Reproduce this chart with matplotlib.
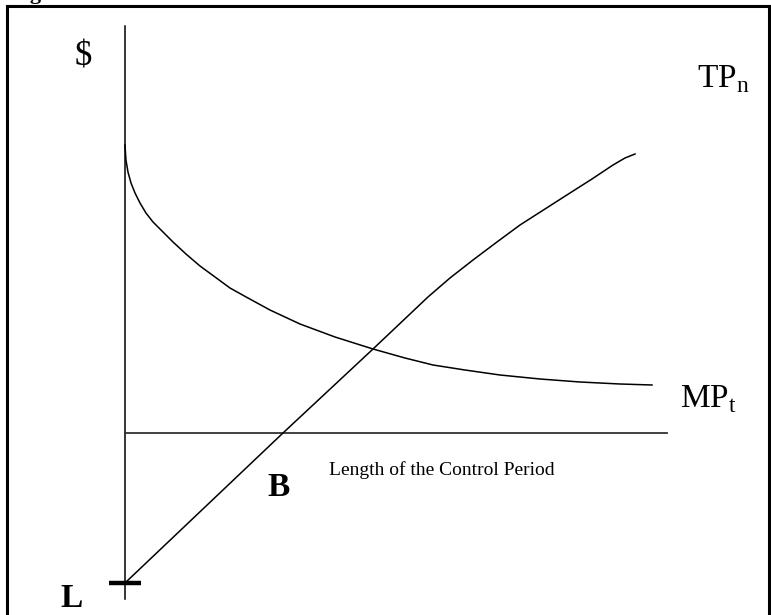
import matplotlib.pyplot as plt
from matplotlib.lines import Line2D

plt.rcParams['font.family'] = ['Liberation Serif', 'DejaVu Serif']
plt.rcParams['mathtext.fontset'] = 'custom'
plt.rcParams['mathtext.rm'] = 'Liberation Serif'

# TP_n curve (net total product)
tp_x = [0.0, 2.915, 4.576, 5.59, 5.996, 6.421, 6.863, 7.288, 7.749, 8.21, 8.616, 9.004, 9.225, 9.41]
tp_y = [-3.0, 0.0, 1.68, 2.72, 3.1, 3.46, 3.82, 4.16, 4.48, 4.8, 5.08, 5.36, 5.5, 5.58]

# MP_t curve (marginal product)
mp_x = [0.0, 0.018, 0.055, 0.111, 0.185, 0.277, 0.387, 0.517, 0.683, 0.886, 1.125,
        1.384, 1.661, 1.937, 2.269, 2.675, 3.229, 3.875, 4.576, 5.166, 5.683, 6.273,
        6.919, 7.657, 8.395, 9.133, 9.723]
mp_y = [5.76, 5.46, 5.22, 5.0, 4.8, 4.6, 4.4, 4.22, 4.04, 3.82, 3.58,
        3.34, 3.12, 2.9, 2.7, 2.46, 2.18, 1.92, 1.68, 1.5, 1.36, 1.26,
        1.16, 1.08, 1.02, 0.98, 0.96]

x_axis_end = 10.0
y_axis_top = 8.14
y_axis_bottom = -3.32
L_value = -3.0

fig = plt.figure(figsize=(7.71, 6.15), dpi=100)
ax = fig.add_axes([0, 0, 1, 1])
ax.set_xlim(-2.306, 11.919)
ax.set_ylim(-3.64, 8.66)
ax.axis('off')

# axes of the diagram
ax.plot([0, 0], [y_axis_bottom, y_axis_top], color='black', lw=1.1)
ax.plot([0, x_axis_end], [0, 0], color='#333333', lw=1.3)
ax.plot([-0.295, 0.295], [L_value, L_value], color='black', lw=3.2, solid_capstyle='butt')

# curves
ax.plot(tp_x, tp_y, color='black', lw=1.1, solid_joinstyle='round')
ax.plot(mp_x, mp_y, color='black', lw=1.1, solid_joinstyle='round')

# labels
ax.text(-0.775, 7.52, '$', fontsize=25, ha='center', va='center')
ax.text(10.55, 6.92, r'TP$_\mathregular{n}$', fontsize=24, ha='left', va='baseline')
ax.text(10.24, 0.52, r'MP$_\mathregular{t}$', fontsize=24, ha='left', va='baseline')
ax.text(3.76, -0.84, 'Length of the Control Period', fontsize=14, ha='left', va='baseline')
ax.text(2.62, -1.26, 'B', fontsize=24, fontweight='bold', ha='left', va='baseline')
ax.text(-1.2, -3.48, 'L', fontsize=24, fontweight='bold', ha='left', va='baseline')

# caption cut off at the top edge
fig.text(11 / 771, 1 + 1 / 615, 'Figure', fontsize=16, fontweight='bold', ha='left', va='baseline')

# frame
W, H = 771, 615
frame_top = 1 - 6 / H
fig.add_artist(Line2D([7 / W, 769 / W], [frame_top, frame_top], color='black', lw=2.2))
fig.add_artist(Line2D([7 / W, 7 / W], [0, frame_top], color='black', lw=2.2))
fig.add_artist(Line2D([769 / W, 769 / W], [0, frame_top], color='black', lw=2.2))

fig.savefig('out.png', dpi=100)
